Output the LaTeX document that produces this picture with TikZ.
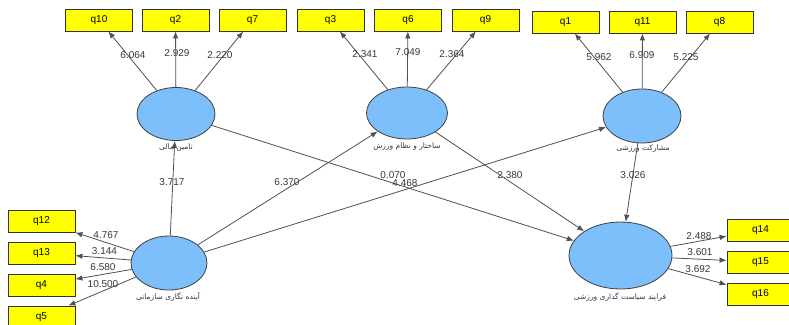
\documentclass[tikz,border=0pt]{standalone}
\usepackage{fontspec}
\setmainfont{Liberation Sans}
\newfontfamily\arabicfont[Script=Arabic]{DejaVu Sans}
\TeXXeTstate=1
\usetikzlibrary{shapes.geometric,arrows.meta}
\definecolor{boxyellow}{RGB}{255,255,0}
\definecolor{lvblue}{RGB}{124,191,250}
\definecolor{linegray}{RGB}{80,80,80}
\definecolor{txtgray}{RGB}{55,55,65}
\tikzset{
  ind/.style={draw=black!80, fill=boxyellow, minimum width=67pt, minimum height=22pt, inner sep=0pt, font=\fontsize{10}{10}\selectfont, line width=0.8pt},
  lv/.style={ellipse, draw=black!75, fill=lvblue, inner sep=0pt, line width=0.8pt},
  conn/.style={draw=linegray, line width=0.8pt, -{Latex[length=7pt,width=5.5pt]}},
  val/.style={font=\fontsize{10}{10}\selectfont, text=txtgray, inner sep=0pt},
  lvlab/.style={font=\arabicfont\fontsize{7.5}{8}\selectfont, text=txtgray, inner sep=0pt}
}
\begin{document}
\begin{tikzpicture}[x=1pt,y=-1pt]
\clip (0,0) rectangle (789,324);
\fill[white] (0,0) rectangle (789,324);
% indicators
\node[ind] (q10) at (99,20) {q10};
\node[ind] (q2) at (175.5,20) {q2};
\node[ind] (q7) at (252.5,20) {q7};
\node[ind] (q3) at (330.5,20) {q3};
\node[ind] (q6) at (408,20) {q6};
\node[ind] (q9) at (485.5,20) {q9};
\node[ind] (q1) at (565.5,22) {q1};
\node[ind] (q11) at (642.5,22) {q11};
\node[ind] (q8) at (719.5,22) {q8};
\node[ind] (q12) at (41.5,221.5) {q12};
\node[ind] (q13) at (41.5,253) {q13};
\node[ind] (q4) at (41.5,285) {q4};
\node[ind] (q5) at (41.5,317) {q5};
\node[ind] (q14) at (760.5,230) {q14};
\node[ind] (q15) at (760.5,262) {q15};
\node[ind] (q16) at (760.5,294) {q16};
% latent variables
\node[lv, minimum width=78pt, minimum height=53pt] (e1) at (176,114) {};
\node[lv, minimum width=81pt, minimum height=52pt] (e2) at (407,113) {};
\node[lv, minimum width=78pt, minimum height=54pt] (e3) at (642,116) {};
\node[lv, minimum width=76pt, minimum height=54pt] (e4) at (169,263) {};
\node[lv, minimum width=103pt, minimum height=67pt] (e5) at (620.5,255.5) {};
% connectors
\draw[conn] (e1) -- (q10);
\draw[conn] (e1) -- (q2);
\draw[conn] (e1) -- (q7);
\draw[conn] (e2) -- (q3);
\draw[conn] (e2) -- (q6);
\draw[conn] (e2) -- (q9);
\draw[conn] (e3) -- (q1);
\draw[conn] (e3) -- (q11);
\draw[conn] (e3) -- (q8);
\draw[conn] (e4) -- (q12);
\draw[conn] (e4) -- (q13);
\draw[conn] (e4) -- (q4);
\draw[conn] (e4) -- (q5);
\draw[conn] (e5) -- (q14);
\draw[conn] (e5) -- (q15);
\draw[conn] (e5) -- (q16);
\draw[conn] (e4) -- (e1);
\draw[conn] (e4) -- (e2);
\draw[conn] (e4) -- (e3);
\draw[conn] (e1) -- (e5);
\draw[conn] (e2) -- (e5);
\draw[conn] (e3) -- (e5);
% labels of latent variables
\node[lvlab] (l1) at (176,148) {\beginR تامین مالی\endR};
\node[lvlab] (l2) at (407,147) {\beginR ساختار و نظام ورزش\endR};
\node[lvlab] (l3) at (643,149) {\beginR مشارکت ورزشی\endR};
\node[lvlab] (l4) at (168,297) {\beginR آینده نگاری سازمانی\endR};
\node[lvlab] (l5) at (620,297) {\beginR فرایند سیاست گذاری ورزشی\endR};
% coefficient labels
\node[val] (v1) at (133,55) {6.064};
\node[val] (v2) at (177,53) {2.929};
\node[val] (v3) at (220,55) {2.220};
\node[val] (v4) at (365,54) {2.341};
\node[val] (v5) at (408,52) {7.049};
\node[val] (v6) at (452,54) {2.364};
\node[val] (v7) at (599,57) {5.962};
\node[val] (v8) at (642,55) {6.909};
\node[val] (v9) at (686,57) {5.225};
\node[val] (v10) at (172,182) {3.717};
\node[val] (v11) at (287,182) {6.370};
\node[val] (v12) at (405,183) {4.468};
\node[val] (v13) at (393,175) {0.070};
\node[val] (v14) at (510,175) {2.380};
\node[val] (v15) at (633,175) {3.026};
\node[val] (v16) at (106,235) {4.767};
\node[val] (v17) at (104.5,251) {3.144};
\node[val] (v18) at (103,267) {6.580};
\node[val] (v19) at (103,284) {10.500};
\node[val] (v20) at (699,236) {2.488};
\node[val] (v21) at (700,252) {3.601};
\node[val] (v22) at (698,269) {3.692};
\end{tikzpicture}
\end{document}
